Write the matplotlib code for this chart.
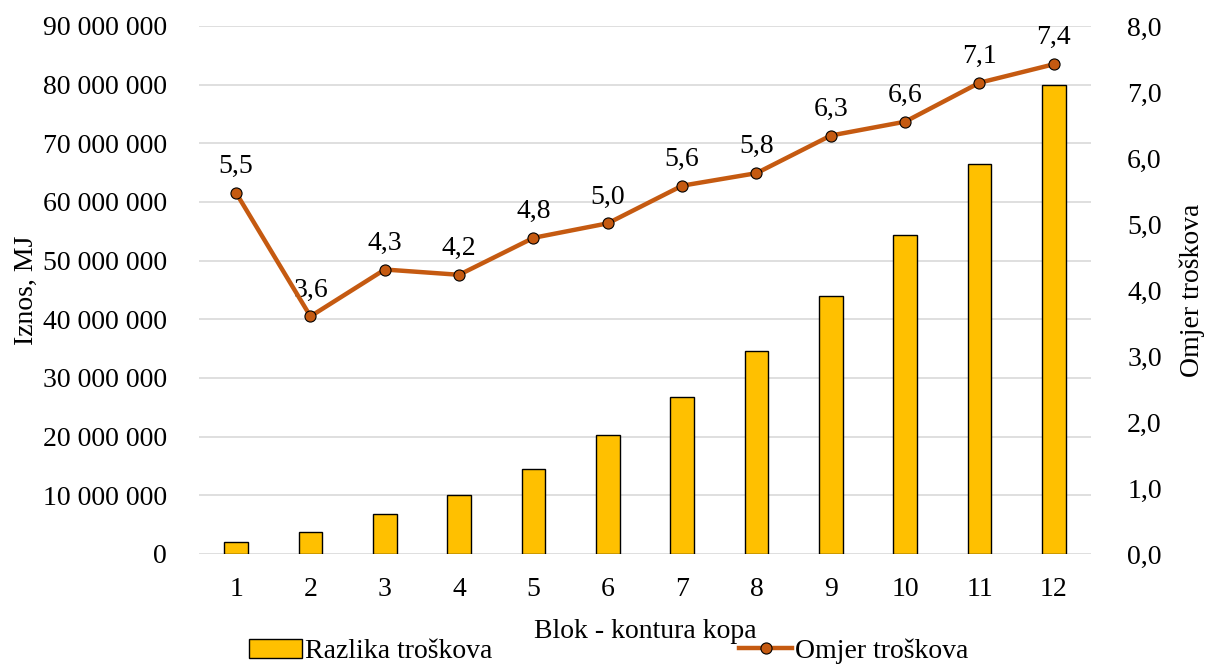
import numpy as np
import matplotlib.pyplot as plt
from matplotlib.ticker import FuncFormatter

plt.rcParams['font.family'] = ['Liberation Serif', 'DejaVu Serif']

blocks = ["1", "2", "3", "4", "5", "6", "7", "8", "9", "10", "11", "12"]
razlika = [2.1e6, 3.75e6, 6.76e6, 10.1e6, 14.55e6, 20.2e6, 26.8e6, 34.6e6, 43.9e6, 54.3e6, 66.4e6, 79.9e6]
omjer = [5.47, 3.60, 4.31, 4.23, 4.79, 5.01, 5.58, 5.77, 6.34, 6.55, 7.14, 7.42]
omjer_labels = ["5,5", "3,6", "4,3", "4,2", "4,8", "5,0", "5,6", "5,8", "6,3", "6,6", "7,1", "7,4"]

fs = 20
bar_color = "#FFC000"
line_color = "#C55A11"
grid_color = "#D9D9D9"

fig = plt.figure(figsize=(12.05, 6.66), dpi=100)
ax = fig.add_axes([0.1651, 0.1682, 0.9054 - 0.1651, 0.961 - 0.1682])
x = np.arange(len(blocks))

bars = ax.bar(x, razlika, width=0.32, color=bar_color, edgecolor="black", linewidth=1.0,
              label="Razlika troškova", zorder=3)
ax.set_ylim(0, 90e6)
ax.set_yticks(np.arange(0, 90e6 + 1, 10e6))
ax.yaxis.set_major_formatter(FuncFormatter(lambda v, p: "{:,.0f}".format(v).replace(",", " ")))
ax.set_xlim(-0.5, len(blocks) - 0.5)
ax.set_xticks(x)
ax.set_xticklabels(blocks)
ax.grid(axis="y", color=grid_color, linewidth=1.2, zorder=0)
ax.set_axisbelow(True)
for s in ax.spines.values():
    s.set_visible(False)
ax.tick_params(axis="y", length=0, labelsize=fs, pad=23)
ax.tick_params(axis="x", length=0, labelsize=fs, pad=16.5)
ax.set_ylabel("Iznos, MJ", fontsize=fs, labelpad=3)
ax.set_xlabel("Blok - kontura kopa", fontsize=fs, labelpad=12)

ax2 = ax.twinx()
line, = ax2.plot(x, omjer, color=line_color, linewidth=3.2, marker="o", markersize=8,
                 markerfacecolor=line_color, markeredgecolor="black", markeredgewidth=0.8,
                 label="Omjer troškova", zorder=4)
ax2.set_ylim(0, 8)
ax2.set_yticks(np.arange(0, 8.01, 1))
ax2.yaxis.set_major_formatter(FuncFormatter(lambda v, p: "{:.1f}".format(v).replace(".", ",")))
for s in ax2.spines.values():
    s.set_visible(False)
ax2.tick_params(axis="y", length=0, labelsize=fs, pad=26)
ax2.set_ylabel("Omjer troškova", fontsize=fs, labelpad=13)

for xi, yi, lab in zip(x, omjer, omjer_labels):
    ax2.annotate(lab, (xi, yi), xytext=(0, 10), textcoords="offset points",
                 ha="center", va="bottom", fontsize=fs)

fig.legend(handles=[bars, line], loc="center", bbox_to_anchor=(0.505, 0.022), ncol=2,
           frameon=False, fontsize=fs, handlelength=1.9, handletextpad=0.1,
           columnspacing=8.9, borderpad=0.0)

fig.savefig("out.png", dpi=100)
